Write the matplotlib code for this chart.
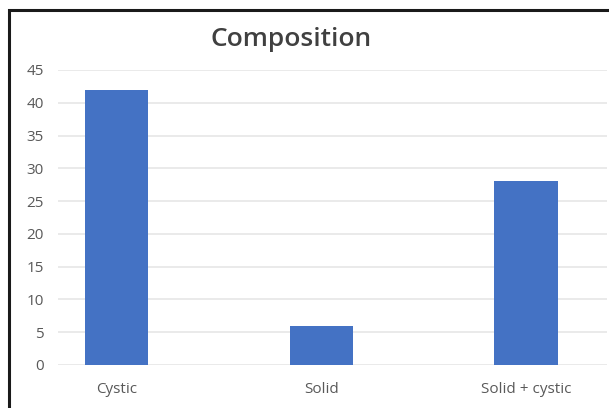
import matplotlib.pyplot as plt
from matplotlib.patches import Rectangle

categories = ['Cystic', 'Solid', 'Solid + cystic']
counts = [42, 6, 28]
yticks = [0, 5, 10, 15, 20, 25, 30, 35, 40, 45]

plt.rcParams['font.family'] = ['Open Sans', 'DejaVu Sans']

fig = plt.figure(figsize=(6.09, 4.08), dpi=100)
ax = fig.add_axes([58/609, 43/408, 549/609, 295/408])

x = range(len(categories))
ax.bar(x, counts, width=0.31, color='#4472C4', zorder=3)

ax.set_xlim(-0.286, 2.396)
ax.set_ylim(0, 45)
ax.set_yticks(yticks)
ax.set_xticks(list(x))
ax.set_xticklabels(categories)
ax.grid(axis='y', color='#e6e6e6', linewidth=1.2, zorder=0)
for s in ax.spines.values():
    s.set_visible(False)
ax.tick_params(axis='both', length=0, labelsize=11, colors='#595959')
ax.tick_params(axis='y', pad=10)
ax.tick_params(axis='x', pad=12)

fig.text(291/609, 1 - 39/408, 'Composition', ha='center', va='center',
         fontsize=19, fontweight='semibold', color='#404040')

# outer frame of the chart
fig.patches.append(Rectangle((8.5/609, -0.1), 1.2, 1 - 10/408 + 0.1,
                             transform=fig.transFigure, fill=False,
                             edgecolor='#1a1a1a', linewidth=2.2))

fig.savefig('out.png', dpi=100)
